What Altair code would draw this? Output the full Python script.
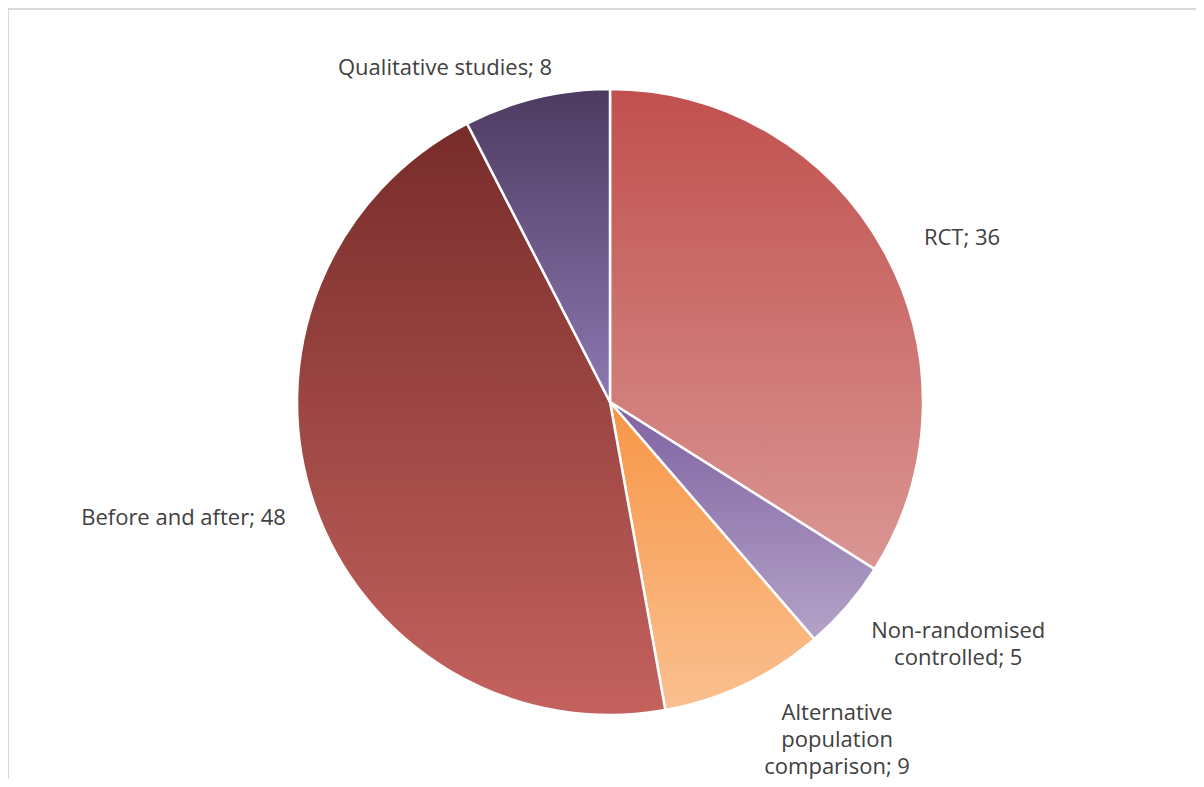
import altair as alt
import pandas as pd

categories = [
    "RCT",
    "Non-randomised controlled",
    "Alternative population comparison",
    "Before and after",
    "Qualitative studies",
]
counts = [36, 5, 9, 48, 8]
labels = [
    "RCT; 36",
    "Non-randomised\ncontrolled; 5",
    "Alternative\npopulation\ncomparison; 9",
    "Before and after; 48",
    "Qualitative studies; 8",
]

df = pd.DataFrame({
    "category": categories,
    "count": counts,
    "label": labels,
    "order": list(range(len(categories))),
})
total = sum(counts)

# styling (gradient top / bottom colours, label nudges)
top_colors = {
    "RCT": "#C0504D",
    "Non-randomised controlled": "#7F63A1",
    "Alternative population comparison": "#F79646",
    "Before and after": "#772C2A",
    "Qualitative studies": "#4D3A60",
}
bottom_colors = {
    "RCT": "#DA9694",
    "Non-randomised controlled": "#B4A2C8",
    "Alternative population comparison": "#FAC090",
    "Before and after": "#C4625E",
    "Qualitative studies": "#8E78B2",
}
label_nudge = {
    "RCT": (28, 15),
    "Non-randomised controlled": (68, -13),
    "Alternative population comparison": (68, -23),
    "Before and after": (-76, -2),
    "Qualitative studies": (-78, 26),
}

W, H = 1188, 771
CX, CY = 602, 394
R = 313

theta_scale = alt.Scale(domain=[0, total])

base = (
    alt.Chart(df)
    .transform_window(end="sum(count)", sort=[alt.SortField("order")], frame=[None, 0])
    .transform_calculate(start="datum.end - datum.count")
    .transform_calculate(mid="(datum.start + datum.end) / 2")
)

layers = []
for cat in categories:
    grad = alt.Gradient(
        gradient="linear",
        x1=0, x2=0, y1=0, y2=1,
        stops=[
            alt.GradientStop(color=top_colors[cat], offset=0),
            alt.GradientStop(color=bottom_colors[cat], offset=1),
        ],
    )
    arc = (
        base.transform_filter(alt.datum.category == cat)
        .mark_arc(outerRadius=R, stroke="white", strokeWidth=2.5, fill=grad)
        .encode(
            theta=alt.Theta("start:Q", scale=theta_scale),
            theta2="end:Q",
            x=alt.value(CX),
            y=alt.value(CY),
        )
    )
    layers.append(arc)

for cat in categories:
    dx, dy = label_nudge[cat]
    txt = (
        base.transform_filter(alt.datum.category == cat)
        .mark_text(
            align="center",
            baseline="middle",
            font="Open Sans",
            fontSize=22,
            color="#404040",
            lineBreak="\n",
            lineHeight=27,
            dx=dx,
            dy=dy,
        )
        .encode(
            text="label:N",
            theta=alt.Theta("mid:Q", scale=theta_scale),
            radius=alt.value(370),
            x=alt.value(CX),
            y=alt.value(CY),
        )
    )
    layers.append(txt)

frame_left = alt.Chart(df).mark_rule(color="#D9D9D9", strokeWidth=2).encode(
    x=alt.value(0), y=alt.value(0), y2=alt.value(H)
)
frame_top = alt.Chart(df).mark_rule(color="#D9D9D9", strokeWidth=2).encode(
    x=alt.value(-1), x2=alt.value(W), y=alt.value(1)
)

chart = (
    alt.layer(frame_left, frame_top, *layers)
    .properties(width=W, height=H, padding=0, autosize=alt.AutoSizeParams(type="none"), background="white")
    .configure_view(stroke=None)
)

chart.save("out.html", embed_options={"renderer": "svg", "actions": False})
